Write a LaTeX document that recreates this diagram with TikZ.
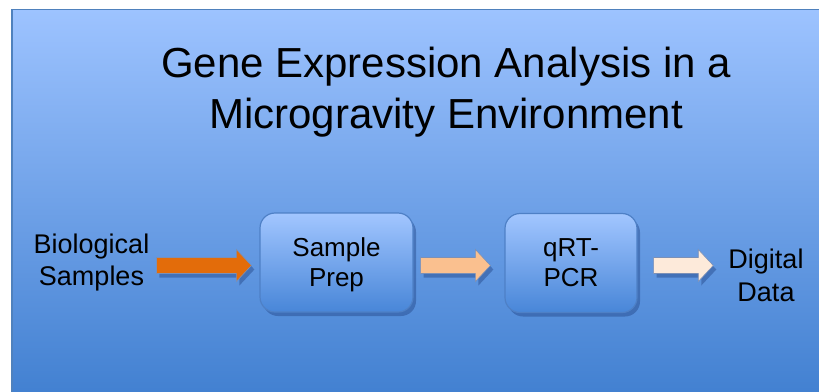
\documentclass[tikz,border=0pt]{standalone}
\usepackage{fontspec}
\setmainfont{Liberation Sans}
\usetikzlibrary{calc,shadows}

\definecolor{bgtop}{RGB}{157,195,255}
\definecolor{bgbottom}{RGB}{64,127,208}
\definecolor{frameline}{RGB}{79,129,189}
\definecolor{boxtop}{RGB}{162,198,255}
\definecolor{boxbottom}{RGB}{72,134,216}
\definecolor{boxline}{RGB}{78,128,198}
\definecolor{shadowblue}{RGB}{35,70,135}
\definecolor{arrowA}{RGB}{227,108,10}
\definecolor{arrowB}{RGB}{250,192,143}
\definecolor{arrowC}{RGB}{253,234,218}

\tikzset{
  stepbox/.style={draw=boxline, line width=1.2pt, rounded corners=15pt,
    top color=boxtop, bottom color=boxbottom, minimum height=99pt,
    inner sep=0pt, align=center, text depth=0pt,
    font=\fontsize{26}{30}\selectfont,
    drop shadow={shadow xshift=3pt, shadow yshift=-4pt, fill=shadowblue, opacity=.45}},
  sidelabel/.style={inner sep=0pt, align=center, font=\fontsize{27}{32}\selectfont},
  blockarrow/.style={fill=#1, draw=shadowblue!60, line width=.6pt,
    drop shadow={shadow xshift=3pt, shadow yshift=-4pt, fill=shadowblue, opacity=.45},
    to path={let \p1=(\tikztostart), \p2=(\tikztotarget) in
      (\x1,\y1+8pt) -- (\x2-15pt,\y1+8pt) -- (\x2-15pt,\y1+16pt) -- (\x2,\y1)
      -- (\x2-15pt,\y1-16pt) -- (\x2-15pt,\y1-8pt) -- (\x1,\y1-8pt) -- cycle}}
}

\begin{document}
\begin{tikzpicture}[x=1pt,y=-1pt]
\useasboundingbox (0,0) rectangle (819,391);

%Shape: Rectangle [background]
\draw [draw=frameline, line width=1.5pt, top color=bgtop, bottom color=bgbottom] (12,9.5) rectangle (830,402) ;

% Text Node
\node [inner sep=0pt, align=center, font=\fontsize{42}{51}\selectfont] (title) at (446,92) {Gene Expression Analysis in a\\Microgravity Environment};

% Text Node
\node [sidelabel] (bio) at (91.5,262.2) {Biological\\Samples};
%Shape: Rounded Rect
\node [stepbox, minimum width=153pt] (prep) at (336.5,262.5) {Sample\\Prep};
%Shape: Rounded Rect
\node [stepbox, minimum width=132pt] (pcr) at (571,263) {qRT-\\PCR};
% Text Node
\node [sidelabel, font=\fontsize{27}{33}\selectfont] (data) at (766,275.4) {Digital\\Data};

\coordinate (row) at (0,265.5);

%Shape: Right Arrow
\draw [blockarrow=arrowA] ([xshift=7]bio.east |- row) to ([xshift=-8]prep.west |- row);
%Shape: Right Arrow
\draw [blockarrow=arrowB] ([xshift=7]prep.east |- row) to ([xshift=-14]pcr.west |- row);
%Shape: Right Arrow
\draw [blockarrow=arrowC] ([xshift=16]pcr.east |- row) to ([xshift=-15]data.west |- row);

\end{tikzpicture}
\end{document}
